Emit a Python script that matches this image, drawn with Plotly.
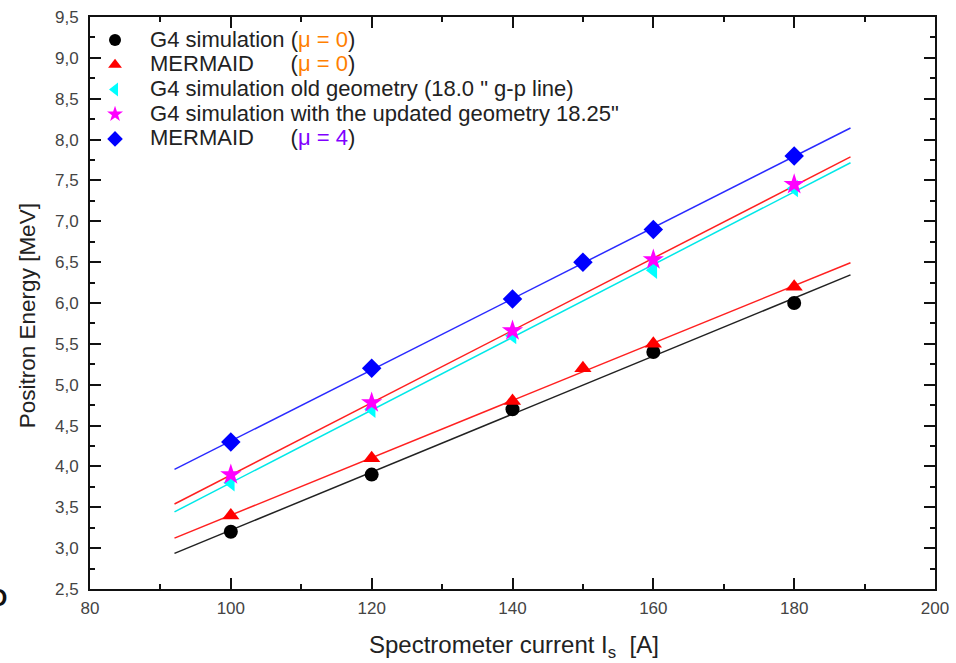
import numpy as np
import plotly.graph_objects as go

# Data
x_g4 = [100, 120, 140, 160, 180]
y_g4 = [3.2, 3.9, 4.7, 5.4, 6.0]

x_mer0 = [100, 120, 140, 150, 160, 180]
y_mer0 = [3.4, 4.1, 4.8, 5.2, 5.5, 6.2]

x_old = [100, 120, 140, 160, 180]
y_old = [3.8, 4.7, 5.6, 6.4, 7.4]

x_new = [100, 120, 140, 160, 180]
y_new = [3.9, 4.78, 5.66, 6.53, 7.45]

x_mer4 = [100, 120, 140, 150, 160, 180]
y_mer4 = [4.3, 5.2, 6.05, 6.5, 6.9, 7.8]

fit_range = [92, 188]

NB = "\u00a0" * 6
labels = [
    "G4 simulation (<span style='color:#ff8000'>\u03bc = 0</span>)",
    "MERMAID" + NB + "(<span style='color:#ff8000'>\u03bc = 0</span>)",
    "G4 simulation old geometry (18.0 \" g-p line)",
    "G4 simulation with the updated geometry 18.25\"",
    "MERMAID" + NB + "(<span style='color:#8000ff'>\u03bc = 4</span>)",
]
names = ["<span style='font-size:22px'>" + s + "</span>" for s in labels]

series = [
    (x_g4, y_g4, "circle", "#000000", "#222222", 14),
    (x_mer0, y_mer0, "triangle-up", "#ff0000", "#ff2020", 15),
    (x_old, y_old, "triangle-left", "#00ffff", "#00e8e8", 15),
    (x_new, y_new, "star", "#ff00ff", "#ff2020", 16),
    (x_mer4, y_mer4, "diamond", "#0000ff", "#2a2aff", 15),
]

fig = go.Figure()

# linear fit lines
for xs, ys, sym, mcol, lcol, size in series:
    k, b = np.polyfit(xs, ys, 1)
    xf = np.array(fit_range, dtype=float)
    fig.add_trace(go.Scatter(x=xf, y=k * xf + b, mode="lines",
                             line=dict(color=lcol, width=1.5),
                             showlegend=False, hoverinfo="skip"))

for (xs, ys, sym, mcol, lcol, size), name in zip(series, names):
    fig.add_trace(go.Scatter(x=xs, y=ys, mode="markers", name=name,
                             marker=dict(symbol=sym, color=mcol, size=size,
                                         line=dict(width=0))))

FONT = "Liberation Sans, Arial"
axis_common = dict(showline=True, linecolor="#111111", linewidth=2, mirror="allticks",
                   ticks="inside", ticklen=11, tickwidth=1.5, tickcolor="#111111",
                   showgrid=False, zeroline=False, automargin=False,
                   tickfont=dict(family=FONT, size=17, color="#444444"))

fig.update_xaxes(range=[80, 200], dtick=20, tick0=80, ticklabelstandoff=3,
                 minor=dict(ticks="inside", ticklen=5, dtick=10, tick0=80, tickcolor="#111111", tickwidth=1.5),
                 **axis_common)
fig.update_yaxes(range=[2.5, 9.5], dtick=0.5, tick0=2.5, tickformat=".1f", ticklabelstandoff=6,
                 minor=dict(ticks="inside", ticklen=5, dtick=0.25, tick0=2.5, tickcolor="#111111", tickwidth=1.5),
                 **axis_common)

# axis titles
fig.add_annotation(text="Spectrometer current I<sub>s</sub>\u00a0 [A]", xref="paper", yref="paper",
                   x=0.502, y=-0.101, xanchor="center", yanchor="middle", showarrow=False,
                   font=dict(family=FONT, size=24, color="#222222"))
fig.add_annotation(text="Positron Energy [MeV]", xref="paper", yref="paper",
                   x=-0.0745, y=0.477, xanchor="center", yanchor="middle", showarrow=False,
                   textangle=-90, font=dict(family=FONT, size=22.5, color="#222222"))

fig.add_annotation(text="<b>D</b>", xref="paper", yref="paper", x=-0.0959, y=-0.0157,
                   xanchor="right", yanchor="middle", showarrow=False,
                   font=dict(family=FONT, size=24, color="#111111"))

fig.update_layout(
    width=956, height=663,
    margin=dict(l=90, r=21, t=17, b=74),
    paper_bgcolor="white", plot_bgcolor="white",
    separators=",.",
    legend=dict(x=-0.0118, y=0.990, xanchor="left", yanchor="top",
                bgcolor="rgba(0,0,0,0)", borderwidth=0, itemwidth=60,
                font=dict(family=FONT, size=16.7, color="#222222"),
                itemsizing="constant", tracegroupgap=0),
    showlegend=True,
)

fig.write_html("out.html")
